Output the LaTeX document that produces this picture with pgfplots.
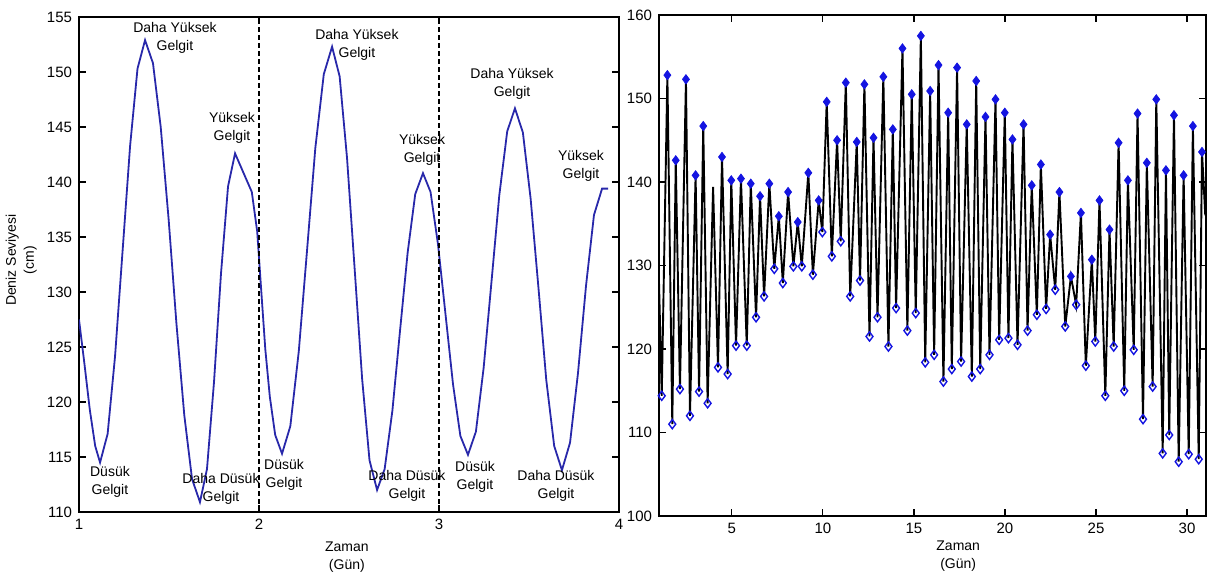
\documentclass[border=0pt]{standalone}
\usepackage{pgfplots}
\pgfplotsset{compat=1.18}
\usepackage{pgfplotstable}
\usepackage{fontspec}
\setmainfont{Liberation Sans}
\definecolor{tideblue}{RGB}{40,40,170}
\definecolor{markblue}{RGB}{20,20,225}

% three days, hourly-ish readings
\pgfplotstableread{
x y
1.000 127.5
1.030 123.5
1.060 119.3
1.090 116.0
1.117 114.5
1.159 117.1
1.200 124.1
1.242 133.7
1.284 143.3
1.325 150.3
1.367 152.9
1.411 150.8
1.454 145.0
1.498 136.6
1.541 127.2
1.585 118.8
1.628 113.0
1.672 110.9
1.711 113.9
1.750 121.8
1.789 131.7
1.828 139.6
1.867 142.6
1.920 140.6
1.960 139.1
1.990 135.5
2.013 130.0
2.035 124.8
2.060 120.5
2.090 117.0
2.128 115.3
2.174 117.8
2.221 124.6
2.267 133.8
2.313 143.1
2.360 149.8
2.406 152.3
2.448 149.6
2.489 142.2
2.531 132.2
2.573 122.1
2.614 114.7
2.656 112.0
2.698 113.9
2.741 119.2
2.783 126.4
2.826 133.6
2.868 138.9
2.911 140.8
2.953 139.1
2.994 134.4
3.036 128.0
3.078 121.6
3.119 116.9
3.161 115.2
3.205 117.3
3.248 123.1
3.292 131.0
3.335 138.8
3.379 144.6
3.422 146.7
3.466 144.5
3.509 138.5
3.553 130.3
3.596 122.0
3.640 116.0
3.683 113.8
3.728 116.3
3.772 122.6
3.817 130.6
3.861 137.0
3.906 139.4
3.940 139.4
}\threedays

% one month: high (p) and low (t) waters, n = no marker
\pgfplotstableread{
x y k
1.00 128.0 n
1.15 114.4 t
1.46 152.8 p
1.73 111.0 t
1.92 142.6 p
2.15 115.2 t
2.48 152.3 p
2.70 112.0 t
3.01 140.8 p
3.20 114.9 t
3.43 146.7 p
3.67 113.5 t
3.97 139.4 n
4.24 117.8 t
4.46 143.0 p
4.77 117.0 t
4.97 140.2 p
5.23 120.4 t
5.50 140.4 p
5.82 120.4 t
6.04 139.8 p
6.33 123.8 t
6.55 138.3 p
6.77 126.3 t
7.06 139.8 p
7.33 129.6 t
7.58 135.9 p
7.80 127.9 t
8.09 138.8 p
8.38 129.9 t
8.62 135.2 p
8.84 129.9 t
9.20 141.1 p
9.45 128.9 t
9.77 137.8 p
9.97 134.0 t
10.21 149.6 p
10.49 131.1 t
10.78 145.0 p
10.98 132.9 t
11.26 151.9 p
11.50 126.3 t
11.86 144.8 p
12.04 128.2 t
12.28 151.7 p
12.56 121.5 t
12.78 145.3 p
13.00 123.8 t
13.32 152.6 p
13.60 120.3 t
13.84 146.3 p
14.02 124.9 t
14.37 156.0 p
14.64 122.2 t
14.88 150.5 p
15.10 124.3 t
15.38 157.5 p
15.62 118.4 t
15.89 150.9 p
16.11 119.3 t
16.35 154.0 p
16.62 116.1 t
16.88 148.3 p
17.08 117.6 t
17.37 153.7 p
17.59 118.5 t
17.90 146.9 p
18.18 116.7 t
18.42 152.1 p
18.64 117.6 t
18.93 147.8 p
19.15 119.3 t
19.48 149.9 p
19.68 121.1 t
19.99 148.3 p
20.19 121.3 t
20.41 145.1 p
20.69 120.5 t
21.02 146.9 p
21.24 122.2 t
21.47 139.6 p
21.75 124.1 t
21.97 142.1 p
22.26 124.8 t
22.48 133.7 p
22.76 127.1 t
22.99 138.8 p
23.31 122.7 t
23.62 128.7 p
23.91 125.3 t
24.17 136.3 p
24.44 118.0 t
24.77 130.7 p
24.96 120.9 t
25.19 137.8 p
25.51 114.4 t
25.74 134.3 p
25.97 120.3 t
26.24 144.7 p
26.55 115.0 t
26.75 140.2 p
27.07 119.9 t
27.28 148.2 p
27.58 111.6 t
27.79 142.3 p
28.11 115.5 t
28.31 149.9 p
28.66 107.5 t
28.84 141.4 p
29.02 109.7 t
29.28 148.0 p
29.54 106.5 t
29.81 140.8 p
30.09 107.4 t
30.32 146.7 p
30.64 106.8 t
30.82 143.6 p
31.00 136.0 n
}\onemonth

\begin{document}
\begin{tikzpicture}
\useasboundingbox (0,0) rectangle (605.5bp,289.5bp);
\tikzset{lbl/.style={font=\fontsize{7bp}{9bp}\selectfont,align=center,inner sep=0pt}}
\pgfplotsset{
  every axis/.append style={
    scale only axis,
    axis line style={line width=0.7bp},
    tick style={black,line width=0.6bp},
    major tick length=3.5bp,
    tick align=inside,
    tick pos=both,
    /pgf/number format/assume math mode=true,
    tick label style={font=\fontsize{7.5bp}{9bp}\selectfont},
    label style={font=\fontsize{7bp}{9bp}\selectfont,align=center},
  },
}
\begin{axis}[at={(39.5bp,33.5bp)},anchor=south west,width=270bp,height=247.5bp,
  xmin=1,xmax=4,ymin=110,ymax=155,
  xtick={1,2,3,4},ytick={110,115,...,155},
  xlabel={Zaman\\(Gün)},ylabel={Deniz Seviyesi\\(cm)},
  xlabel style={at={(axis description cs:0.496,-0.091)},anchor=center},
  ylabel style={at={(axis description cs:-0.107,0.509)},anchor=center}]
\addplot[tideblue,line width=0.9bp] table {\threedays};
\addplot[black,line width=0.6bp,dash pattern=on 2.5bp off 1.5bp] coordinates {(2,110) (2,155)};
\addplot[black,line width=0.6bp,dash pattern=on 2.5bp off 1.5bp] coordinates {(3,110) (3,155)};
\node[lbl] at (axis cs:1.533,153.1) {Daha Yüksek\\Gelgit};
\node[lbl] at (axis cs:1.850,144.9) {Yüksek\\Gelgit};
\node[lbl] at (axis cs:2.544,152.5) {Daha Yüksek\\Gelgit};
\node[lbl] at (axis cs:2.906,142.9) {Yüksek\\Gelgit};
\node[lbl] at (axis cs:3.406,148.9) {Daha Yüksek\\Gelgit};
\node[lbl] at (axis cs:3.789,141.5) {Yüksek\\Gelgit};
\node[lbl] at (axis cs:1.172,112.7) {Düsük\\Gelgit};
\node[lbl] at (axis cs:1.789,112.1) {Daha Düsük\\Gelgit};
\node[lbl] at (axis cs:2.139,113.4) {Düsük\\Gelgit};
\node[lbl] at (axis cs:2.822,112.4) {Daha Düsük\\Gelgit};
\node[lbl] at (axis cs:3.200,113.2) {Düsük\\Gelgit};
\node[lbl] at (axis cs:3.650,112.4) {Daha Düsük\\Gelgit};
\end{axis}

\begin{axis}[at={(329.5bp,31.5bp)},anchor=south west,width=273.5bp,height=250.5bp,
  xmin=1,xmax=31.04,ymin=100,ymax=160,
  xtick={5,10,...,30},ytick={100,110,...,160},
  xlabel={Zaman\\(Gün)},
  xlabel style={at={(axis description cs:0.547,-0.08)},anchor=center}]
\addplot[black,line width=0.95bp] table[x=x,y=y] {\onemonth};
\addplot[scatter,only marks,scatter src=explicit symbolic,
  scatter/classes={
    p={mark=diamond*,draw=markblue,fill=markblue,mark size=2.3bp},
    t={mark=diamond,draw=markblue,mark size=2.3bp,line width=0.7bp},
    n={mark size=0pt,draw=none,fill=none}}]
  table[x=x,y=y,meta=k] {\onemonth};
\end{axis}
\end{tikzpicture}
\end{document}
